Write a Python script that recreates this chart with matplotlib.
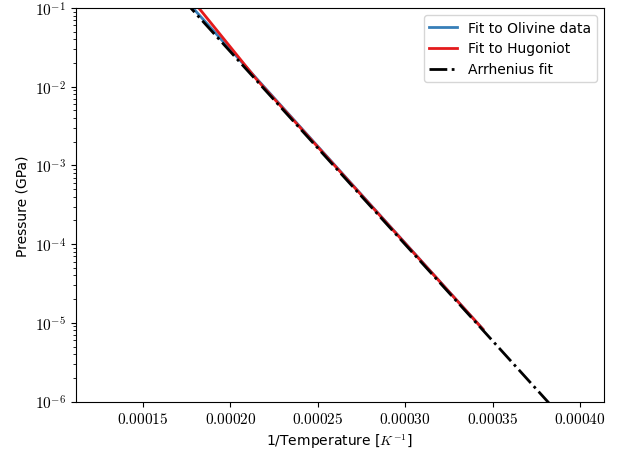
import matplotlib
matplotlib.use("Agg")
import matplotlib.pyplot as plt
import numpy as np
from matplotlib.ticker import FuncFormatter, FixedLocator

plt.rcParams['mathtext.fontset'] = 'cm'
plt.rcParams['font.family'] = ['DejaVu Sans']

# Data: inverse temperature (1/K) and pressure (GPa)
olivine_invT = [0.0001785, 0.0003445]
olivine_P = [1.0e-1, 8.3e-6]

hugoniot_invT = [0.0001819, 0.0002148, 0.0003445]
hugoniot_P = [1.0e-1, 1.25e-2, 8.3e-6]

arrhenius_invT = [0.000165, 0.000390]
arrhenius_P = [2.0e-1, 6.2e-7]

xticks = [0.00015, 0.00020, 0.00025, 0.00030, 0.00035, 0.00040]
xlim = (0.0001115, 0.0004137)
ylim = (1e-6, 1e-1)

fig = plt.figure(figsize=(6.27, 4.52), dpi=100)
ax = fig.add_axes([0.121, 0.1095, 0.842, 0.8705])

ax.plot(olivine_invT, olivine_P, color='#377eb8', lw=2, label='Fit to Olivine data')
ax.plot(hugoniot_invT, hugoniot_P, color='#e41a1c', lw=2, label='Fit to Hugoniot')
ax.plot(arrhenius_invT, arrhenius_P, color='black', lw=2, ls='-.', label='Arrhenius fit')

ax.set_yscale('log')
ax.set_xlim(*xlim)
ax.set_ylim(*ylim)
ax.xaxis.set_major_locator(FixedLocator(xticks))
ax.xaxis.set_major_formatter(FuncFormatter(lambda v, p: r'$%.5f$' % v))
ax.yaxis.set_major_formatter(FuncFormatter(lambda v, p: r'$10^{%d}$' % int(round(np.log10(v)))))
ax.tick_params(labelsize=11)

ax.set_xlabel(r'1/Temperature [$K^{-1}$]', fontsize=10)
ax.set_ylabel('Pressure (GPa)', fontsize=10)
ax.legend(loc='upper right', fontsize=10)

fig.savefig('out.png', dpi=100)
